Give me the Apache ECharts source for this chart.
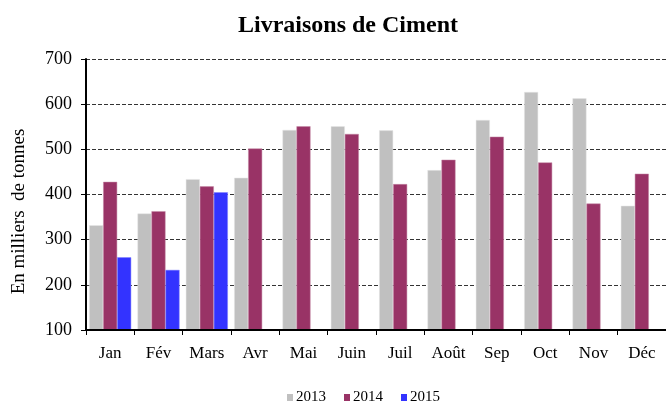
<!DOCTYPE html>
<html>
<head>
<meta charset="utf-8">
<script src="https://cdn.jsdelivr.net/npm/echarts@6/dist/echarts.min.js"></script>
<style>
  html, body { margin: 0; padding: 0; background: #fff; }
  #main { width: 666px; height: 405px; }
</style>
</head>
<body>
<div id="main"></div>
<script>
var mois = ['Jan', 'Fév', 'Mars', 'Avr', 'Mai', 'Juin', 'Juil', 'Août', 'Sep', 'Oct', 'Nov', 'Déc'];
var ans = ['2013', '2014', '2015'];
var v2013 = [332, 358, 434, 437, 543, 551, 542, 454, 565, 627, 613, 375];
var v2014 = [428, 363, 418, 502, 551, 534, 423, 477, 528, 471, 380, 446];
var v2015 = [261, 233, 405, '-', '-', '-', '-', '-', '-', '-', '-', '-'];
var couleurs = ['#c0c0c0', '#993366', '#3333ff'];

var police = "'Liberation Serif', 'Times New Roman', serif";

var chart = echarts.init(document.getElementById('main'));

var option = {
    animation: false,
    textStyle: { fontFamily: police },
    title: {
        text: 'Livraisons de Ciment',
        left: 233,
        top: 9,
        textStyle: { fontFamily: police, fontSize: 24, fontWeight: 'bold', color: '#000' }
    },
    legend: {
        data: ans,
        left: 282,
        top: 385,
        itemWidth: 6,
        itemHeight: 7,
        itemGap: 18,
        icon: 'rect',
        itemStyle: { borderWidth: 0 },
        textStyle: { fontFamily: police, fontSize: 15, color: '#000', padding: [0, 0, 0, -2] }
    },
    grid: { left: 86, top: 59, width: 581, height: 271 },
    xAxis: {
        type: 'category',
        data: mois,
        z: 5,
        axisLine: { lineStyle: { color: '#000', width: 2 } },
        axisTick: { show: true, length: 5, lineStyle: { color: '#000' } },
        axisLabel: { fontFamily: police, fontSize: 17, color: '#000', margin: 15 }
    },
    yAxis: {
        type: 'value',
        min: 100,
        max: 700,
        interval: 100,
        name: 'En milliers  de tonnes',
        nameLocation: 'middle',
        nameGap: 57,
        nameTextStyle: { fontFamily: police, fontSize: 19, color: '#000', padding: [0, 34, 0, 0] },
        axisLine: { show: true, lineStyle: { color: '#000', width: 2 } },
        axisTick: { show: true, length: 5, lineStyle: { color: '#000' } },
        axisLabel: { fontFamily: police, fontSize: 18, color: '#000', margin: 14 },
        splitLine: { lineStyle: { color: '#333', type: [4, 2], width: 1 } }
    },
    series: [
        { name: ans[0], type: 'bar', data: v2013, barGap: '0%', barCategoryGap: '13%',
          itemStyle: { color: couleurs[0], borderColor: '#e6e6e6', borderWidth: 0.5 } },
        { name: ans[1], type: 'bar', data: v2014, barGap: '0%', barCategoryGap: '13%',
          itemStyle: { color: couleurs[1], borderColor: '#c58aa6', borderWidth: 0.5 } },
        { name: ans[2], type: 'bar', data: v2015, barGap: '0%', barCategoryGap: '13%',
          itemStyle: { color: couleurs[2], borderColor: '#8080ff', borderWidth: 0.5 } }
    ]
};

chart.setOption(option);
</script>
</body>
</html>
